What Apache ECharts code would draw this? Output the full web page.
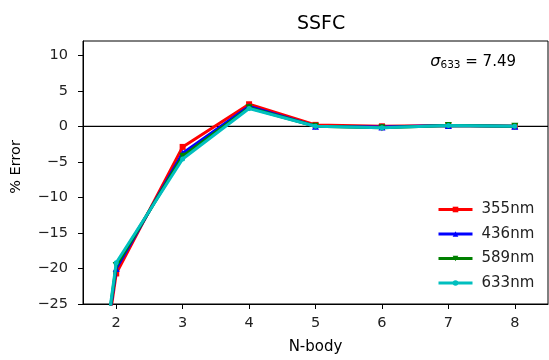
<!DOCTYPE html>
<html>
<head>
<meta charset="utf-8">
<script src="https://cdn.jsdelivr.net/npm/echarts@6/dist/echarts.min.js"></script>
<style>html,body{margin:0;padding:0;background:#fff}#c{width:549px;height:360px}</style>
</head>
<body>
<div id="c"></div>
<script>
var nbody = [1, 2, 3, 4, 5, 6, 7, 8];
var s355 = [-85, -20.7, -2.9, 3.1, 0.2, 0.0, 0.1, 0.0];
var s436 = [-86, -20.0, -3.8, 2.8, 0.0, -0.1, 0.1, 0.0];
var s589 = [-87, -19.6, -4.2, 2.6, 0.0, -0.2, 0.1, 0.0];
var s633 = [-88, -19.2, -4.6, 2.5, 0.0, -0.2, 0.1, 0.0];
var xTicks = [2, 3, 4, 5, 6, 7, 8];
var yTicks = [-25, -20, -15, -10, -5, 0, 5, 10];
var names = ['355nm', '436nm', '589nm', '633nm'];
var colors = ['#ff0000', '#0000ff', '#008000', '#00bfbf'];
var symbols = ['rect', 'triangle', 'path://M0,0 L10,0 L5,10 Z', 'circle'];
var sizes = [6, 7, 7, 5];
var allData = [s355, s436, s589, s633];

var font = 'DejaVu Sans';
var series = allData.map(function (d, i) {
  return {
    name: names[i],
    type: 'line',
    data: nbody.map(function (x, j) { return [x, d[j]]; }),
    symbol: symbols[i],
    symbolSize: sizes[i],
    showAllSymbol: true,
    color: colors[i],
    lineStyle: { width: 3, color: colors[i] },
    itemStyle: { color: colors[i] },
    z: 3 + i,
    clip: true,
    animation: false
  };
});
series.unshift({
  type: 'line',
  data: [[1.5, 0], [8.5, 0]],
  symbol: 'none',
  lineStyle: { color: '#000', width: 1.3 },
  z: 2,
  silent: true,
  animation: false
});

var chart = echarts.init(document.getElementById('c'), null, { renderer: 'canvas' });
chart.setOption({
  backgroundColor: '#fff',
  animation: false,
  title: {
    text: 'SSFC', left: 292, top: 10,
    textStyle: { fontFamily: font, fontSize: 19, fontWeight: 'normal', color: '#000' }
  },
  grid: { left: 83, right: 1, top: 41, bottom: 55, show: true, borderColor: '#000', borderWidth: 1, backgroundColor: 'transparent' },
  xAxis: {
    type: 'value', min: 1.5, max: 8.5,
    name: 'N-body', nameLocation: 'middle', nameGap: 36,
    nameTextStyle: { fontFamily: font, fontSize: 15, color: '#000', verticalAlign: 'top' },
    axisLine: { show: true, onZero: false, lineStyle: { color: '#000', width: 1 } },
    axisTick: { show: true, length: 5, customValues: xTicks, lineStyle: { color: '#000' } },
    axisLabel: { customValues: xTicks, margin: 12, fontFamily: font, fontSize: 14.5, color: '#222' },
    splitLine: { show: false }
  },
  yAxis: {
    type: 'value', min: -25, max: 12,
    axisLine: { show: true, onZero: false, lineStyle: { color: '#000', width: 1 } },
    axisTick: { show: true, length: 5, customValues: yTicks, lineStyle: { color: '#000' } },
    axisLabel: {
      customValues: yTicks, margin: 15, fontFamily: font, fontSize: 14.5, color: '#222',
      formatter: function (v) { return v < 0 ? '\u2212' + Math.abs(v) : String(v); }
    },
    splitLine: { show: false }
  },
  legend: {
    data: names, orient: 'vertical', left: 432, top: 197,
    itemWidth: 34, itemHeight: 7, itemGap: 9.5,
    lineStyle: { width: 3 },
    textStyle: { fontFamily: font, fontSize: 15, lineHeight: 15, color: '#222', padding: [0, 0, 0, 4] }
  },
  graphic: [{
    type: 'text', x: 16, y: 167, rotation: Math.PI / 2,
    style: { text: '% Error', fontFamily: font, fontSize: 14.5, fill: '#000', align: 'center', verticalAlign: 'middle' }
  }, {
    type: 'text', right: 33, top: 54,
    style: {
      text: '{s|σ}{sub|633} = 7.49',
      fontFamily: font, fontSize: 15, fill: '#000',
      rich: {
        s: { fontFamily: font, fontStyle: 'italic', fontSize: 16, fill: '#000' },
        sub: { fontFamily: font, fontSize: 10.5, fill: '#000', verticalAlign: 'bottom', padding: [7, 0, 0, 0] }
      }
    }
  }],
  series: series
});
</script>
</body>
</html>
